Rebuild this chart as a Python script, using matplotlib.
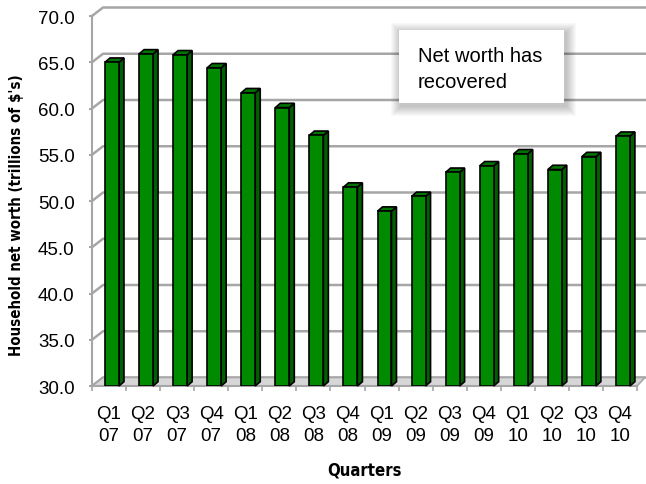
import matplotlib
matplotlib.use("Agg")
import matplotlib.pyplot as plt
from matplotlib.patches import Polygon, Rectangle
import numpy as np

quarters = ["Q1\n07", "Q2\n07", "Q3\n07", "Q4\n07",
            "Q1\n08", "Q2\n08", "Q3\n08", "Q4\n08",
            "Q1\n09", "Q2\n09", "Q3\n09", "Q4\n09",
            "Q1\n10", "Q2\n10", "Q3\n10", "Q4\n10"]
net_worth = [65.0, 65.9, 65.8, 64.4, 61.7, 60.1, 57.1, 51.5,
             48.9, 50.5, 53.1, 53.8, 55.1, 53.4, 54.8, 57.0]
y_ticks = [30, 35, 40, 45, 50, 55, 60, 65, 70]

regular = ["Liberation Sans", "DejaVu Sans"]
cond = ["DejaVu Sans"]
grid_col = "#a6a6a6"

W, H = 646, 485
fig = plt.figure(figsize=(W / 100, H / 100), dpi=100)
ax_l, ax_r, ax_t, ax_b = 92, 637, 17, 387
ax = fig.add_axes([ax_l / W, 1 - ax_b / H, (ax_r - ax_l) / W, (ax_b - ax_t) / H])

n = len(quarters)
x = np.arange(n)
ymin, ymax = y_ticks[0], y_ticks[-1]
ax.set_xlim(-0.5, n - 0.5)
ax.set_ylim(ymin, ymax)

# pixel -> data helpers for the fake 3d depth
px_x = (ax_r - ax_l) / n
px_y = (ax_b - ax_t) / (ymax - ymin)
wall_dx, wall_dy = 11 / px_x, 8.5 / px_y
bar_dx, bar_dy = 5 / px_x, 4.3 / px_y
x_end = n - 0.5 + 12 / px_x

# back wall gridlines + side wall diagonals
for v in y_ticks:
    ax.plot([-0.5, -0.5 + wall_dx, x_end], [v, v + wall_dy, v + wall_dy],
            color=grid_col, lw=1.8, clip_on=False, zorder=0.5,
            solid_capstyle="butt")

# floor
floor = Polygon([(-0.5, ymin), (n - 0.5, ymin),
                 (n - 0.5 + 8 / px_x, ymin + wall_dy), (-0.5 + wall_dx, ymin + wall_dy)],
                closed=True, facecolor="#d6d6d6", edgecolor=grid_col, lw=1.2,
                clip_on=False, zorder=1)
ax.add_patch(floor)

# bars: front face + side + top
bar_w = 0.41
centers = x + 0.087
heights = np.array(net_worth) - ymin
ax.bar(centers, heights, bottom=ymin, width=bar_w, color="#008a00",
       edgecolor="black", lw=1.2, zorder=3)
for c, v in zip(centers, net_worth):
    xl, xr = c - bar_w / 2, c + bar_w / 2
    side = Polygon([(xr, ymin), (xr, v), (xr + bar_dx, v + bar_dy), (xr + bar_dx, ymin + bar_dy)],
                   closed=True, facecolor="#005f00", edgecolor="black", lw=1.2,
                   clip_on=False, zorder=2)
    top = Polygon([(xl, v), (xr, v), (xr + bar_dx, v + bar_dy), (xl + bar_dx, v + bar_dy)],
                  closed=True, facecolor="#007400", edgecolor="black", lw=1.2,
                  clip_on=False, zorder=2)
    ax.add_patch(side)
    ax.add_patch(top)

# axes styling
for s in ["top", "right"]:
    ax.spines[s].set_visible(False)
for s in ["left", "bottom"]:
    ax.spines[s].set_color(grid_col)
    ax.spines[s].set_linewidth(1.5)
    ax.spines[s].set_zorder(1.5)

ax.set_yticks(y_ticks, labels=[f"{v:.1f}" for v in y_ticks])
ax.tick_params(axis="y", length=2.5, width=1.5, color=grid_col, pad=10,
               labelsize=13.5)
for t in ax.get_yticklabels():
    t.set_family(regular)

ax.set_xticks(x, labels=quarters)
ax.set_xticks(np.arange(-0.5, n, 1), minor=True)
ax.tick_params(axis="x", which="major", length=0, pad=13.5, labelsize=13.5)
ax.tick_params(axis="x", which="minor", length=3.5, width=1.2, color=grid_col)
for t in ax.get_xticklabels():
    t.set_family(regular)
    t.set_linespacing(1.4)

ax.set_ylabel("Household net worth (trillions of $'s)", family=cond,
              fontstretch="condensed", fontweight="bold", fontsize=10.8)
ax.yaxis.set_label_coords((24 - ax_l) / (ax_r - ax_l), (ax_b - 215) / (ax_b - ax_t))
ax.set_xlabel("Quarters", family=cond, fontstretch="condensed",
              fontweight="bold", fontsize=12)
ax.xaxis.set_label_coords(0.5, (ax_b - 461) / (ax_b - ax_t))

# annotation box with soft shadow
bx0, by0, bx1, by1 = 399, 31, 564, 104
for k in range(10, 0, -1):
    fig.patches.append(Rectangle(((bx0 - k + 2) / W, 1 - (by1 + k + 3) / H),
                                 (bx1 - bx0 + 2 * k) / W, (by1 - by0 + 2 * k) / H,
                                 transform=fig.transFigure, facecolor="black",
                                 alpha=0.025, edgecolor="none", zorder=5))
fig.patches.append(Rectangle((bx0 / W, 1 - by1 / H), (bx1 - bx0) / W, (by1 - by0) / H,
                             transform=fig.transFigure, facecolor="white",
                             edgecolor="none", zorder=6))
fig.text(418 / W, 1 - 69.5 / H, "Net worth has\nrecovered", family=regular,
         fontsize=14.5, ha="left", va="center", linespacing=1.45, zorder=7)

fig.savefig("out.png", dpi=100)
